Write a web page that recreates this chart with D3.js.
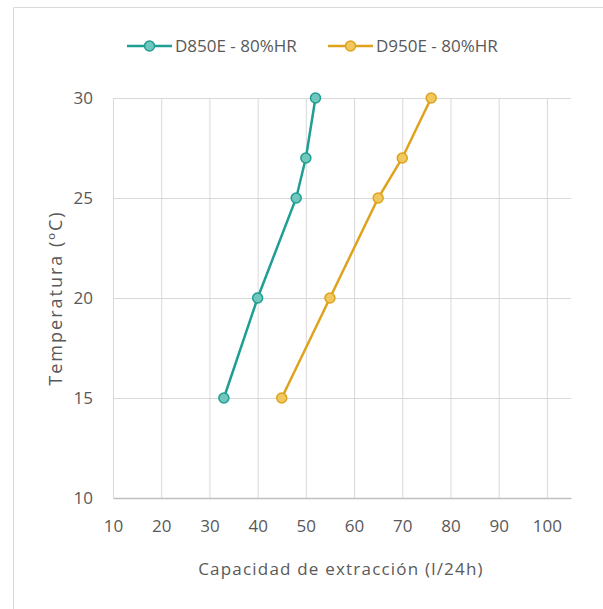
<!DOCTYPE html>
<html>
<head>
<meta charset="utf-8">
<script src="https://cdn.jsdelivr.net/npm/d3@7"></script>
<style>
	body { margin: 0; background: #fff; }
	text { font-family: "Open Sans", sans-serif; fill: #595959; }
</style>
</head>
<body>
<div id="chart"></div>
<script>

// data
var series_names= ["D850E - 80%HR", "D950E - 80%HR"];
var temperatures= [15, 20, 25, 27, 30];
var d850e= [33, 40, 48, 50, 52];
var d950e= [45, 55, 65, 70, 76];
var x_ticks= [10, 20, 30, 40, 50, 60, 70, 80, 90, 100];
var y_ticks= [10, 15, 20, 25, 30];
var x_title= "Capacidad de extracción (l/24h)";
var y_title= "Temperatura (ºC)";

var colors= ["#1f9e94", "#dfa21d"];
var fills= ["#70c7be", "#efc860"];

var width= 603;
var height= 609;

var plot_left= 113, plot_right= 571, plot_top= 98, plot_bottom= 498;

var svg= d3.select("#chart")
		.append("svg")
		.attr("width", width)
		.attr("height", height);

// chart frame (only left and top edges show in the picture)
svg.append("path")
	.attr("d", "M13.5," + height + "V7.5H" + width)
	.attr("fill", "none")
	.attr("stroke", "#d9d9d9");

var x= d3.scaleLinear().domain([10, 105]).range([plot_left, plot_right]);
var y= d3.scaleLinear().domain([10, 30]).range([plot_bottom, plot_top]);

// vertical gridlines
svg.append("g")
	.attr("transform", "translate(0," + plot_bottom + ")")
	.call(d3.axisBottom(x).tickValues(x_ticks).tickSize(-(plot_bottom- plot_top)).tickFormat(""))
	.call(g => g.select(".domain").remove())
	.call(g => g.selectAll("line").attr("stroke", "#d9d9d9"));

// horizontal gridlines
svg.append("g")
	.attr("transform", "translate(" + plot_left + ",0)")
	.call(d3.axisLeft(y).tickValues(y_ticks.slice(1)).tickSize(-(plot_right- plot_left)).tickFormat(""))
	.call(g => g.select(".domain").remove())
	.call(g => g.selectAll("line").attr("stroke", "#d9d9d9"));

// x axis line + labels
var x_axis= svg.append("g")
	.attr("transform", "translate(0," + plot_bottom + ")")
	.call(d3.axisBottom(x).tickValues(x_ticks).tickSize(0).tickPadding(22));
x_axis.select(".domain").attr("stroke", "#bfbfbf").attr("stroke-width", 1.5);
x_axis.selectAll("text").style("font-size", "17px").attr("fill", "#595959");

// y axis labels
var y_axis= svg.append("g")
	.attr("transform", "translate(" + plot_left + ",0)")
	.call(d3.axisLeft(y).tickValues(y_ticks).tickSize(0).tickPadding(20));
y_axis.select(".domain").remove();
y_axis.selectAll("text").style("font-size", "17px").attr("fill", "#595959");

// axis titles
svg.append("text")
	.attr("x", 341)
	.attr("y", 575)
	.attr("text-anchor", "middle")
	.style("font-size", "17px")
	.style("letter-spacing", "1.2px")
	.text(x_title);

svg.append("text")
	.attr("transform", "translate(62," + ((plot_top+ plot_bottom)/ 2) + ") rotate(-90)")
	.attr("text-anchor", "middle")
	.style("font-size", "18px")
	.style("letter-spacing", "2px")
	.text(y_title);

// series
var all_series= [d850e, d950e];
var line= d3.line()
	.x(d => x(d[0]))
	.y(d => y(d[1]));

for (var i= 0; i< all_series.length; i++) {
	var pts= all_series[i].map((v, j) => [v, temperatures[j]]);

	svg.append("path")
		.datum(pts)
		.attr("fill", "none")
		.attr("stroke", colors[i])
		.attr("stroke-width", 2.5)
		.attr("d", line);

	svg.selectAll(null)
		.data(pts)
		.enter()
		.append("circle")
		.attr("cx", d => x(d[0]))
		.attr("cy", d => y(d[1]))
		.attr("r", 5)
		.attr("fill", fills[i])
		.attr("stroke", colors[i])
		.attr("stroke-width", 1.5);
}

// legend
var legend_x= [127, 328];
for (var i= 0; i< series_names.length; i++) {
	var lg= svg.append("g").attr("transform", "translate(" + legend_x[i] + ",46)");
	lg.append("line")
		.attr("x1", 0).attr("x2", 45)
		.attr("stroke", colors[i])
		.attr("stroke-width", 2.5);
	lg.append("circle")
		.attr("cx", 22.5)
		.attr("r", 5)
		.attr("fill", fills[i])
		.attr("stroke", colors[i])
		.attr("stroke-width", 1.5);
	lg.append("text")
		.attr("x", 48)
		.attr("dy", "0.35em")
		.style("font-size", "17px")
		.text(series_names[i]);
}
</script>
</body>
</html>
